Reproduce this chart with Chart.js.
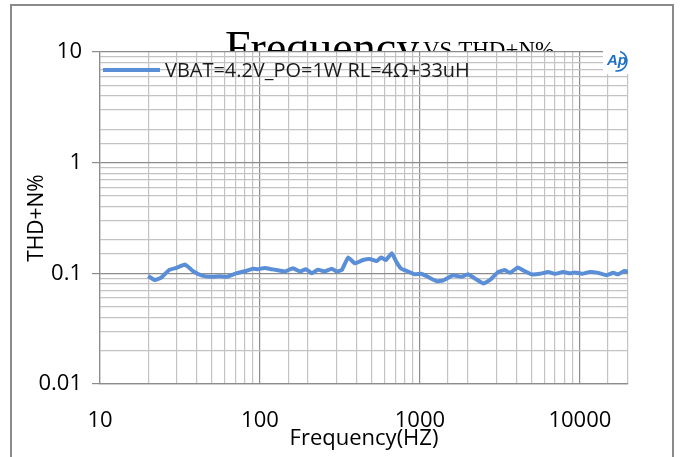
<!DOCTYPE html>
<html>
<head>
<meta charset="utf-8">
<script src="https://cdn.jsdelivr.net/npm/chart.js@4.4.1/dist/chart.umd.min.js"></script>
<style>
html,body{margin:0;padding:0;background:#fff;}
#wrap{width:683px;height:457px;position:relative;}
</style>
</head>
<body>
<div id="wrap"><canvas id="c" width="683" height="457"></canvas></div>
<script>
const seriesLabel = 'VBAT=4.2V_PO=1W RL=4\u03A9+33uH';
const titleMain = 'Frequency';
const titleSub = 'VS THD+N%';
const xTitle = 'Frequency(HZ)';
const yTitle = 'THD+N%';
const freqs = [20,22,24,27,30,34,38,43,49,56,62,71,82,90,97,107,118,127,143,161,178,194,211,230,254,281,302,325,356,392,441,486,536,573,614,667,717,765,831,929,1020,1120,1270,1390,1610,1820,2000,2200,2500,2740,3090,3400,3660,4100,4500,4990,5620,6330,6980,7870,8660,9310,10270,11550,13000,14700,16200,17300,19000,20000];
const thd = [0.0945,0.087,0.091,0.107,0.112,0.12,0.105,0.096,0.093,0.094,0.093,0.1,0.105,0.11,0.109,0.112,0.109,0.107,0.104,0.111,0.104,0.109,0.1,0.108,0.104,0.11,0.104,0.107,0.139,0.123,0.132,0.135,0.129,0.139,0.132,0.152,0.125,0.11,0.105,0.098,0.099,0.093,0.085,0.086,0.096,0.093,0.098,0.090,0.081,0.087,0.103,0.107,0.101,0.113,0.105,0.098,0.099,0.103,0.099,0.103,0.1,0.102,0.099,0.103,0.101,0.096,0.101,0.098,0.105,0.104];
const xTickLabels = [10,100,1000,10000];
const yTickLabels = [0.01,0.1,1,10];

const LINE_COLOR = '#5a8fd7';
const MINOR = '#c3c3c3';
const MAJOR = '#8c8c8c';

function isIn(list, v){ return list.some(t => Math.abs(Math.log10(t) - Math.log10(v)) < 1e-6); }

const decor = {
  id: 'decor',
  beforeDraw(chart){
    const ctx = chart.ctx, a = chart.chartArea;
    ctx.save();
    ctx.fillStyle = '#fff';
    ctx.fillRect(0,0,chart.width,chart.height);
    ctx.strokeStyle = '#8a8a8a';
    ctx.lineWidth = 2;
    ctx.strokeRect(11,5,662,500);
    ctx.fillStyle = '#000';
    ctx.textBaseline = 'alphabetic';
    ctx.font = '46px "Liberation Serif", "DejaVu Serif", serif';
    ctx.fillText(titleMain, 225, 63);
    ctx.font = '23px "Liberation Serif", "DejaVu Serif", serif';
    ctx.fillText(titleSub, 423, 57);
    ctx.fillStyle = '#fff';
    ctx.fillRect(a.left, a.top, a.right - a.left, a.bottom - a.top);
    ctx.restore();
  },
  afterDatasetsDraw(chart){
    const ctx = chart.ctx, a = chart.chartArea;
    const ds = chart.data.datasets[0];
    ctx.save();
    // legend
    ctx.strokeStyle = ds.borderColor;
    ctx.lineWidth = 4;
    ctx.beginPath();
    ctx.moveTo(a.left + 3, 70);
    ctx.lineTo(a.left + 60, 70);
    ctx.stroke();
    ctx.fillStyle = '#1a1a1a';
    ctx.textBaseline = 'middle';
    ctx.font = '16px "Open Sans", sans-serif';
    const w = ctx.measureText(ds.label).width;
    const fs = 16 * 305 / w;
    ctx.font = fs.toFixed(2) + 'px "Open Sans", sans-serif';
    ctx.fillText(ds.label, a.left + 65, 71);
    // logo
    ctx.fillStyle = '#fff';
    ctx.fillRect(603, 48, 29, 26);
    ctx.fillStyle = '#1f6fc4';
    ctx.font = 'italic bold 15px "Liberation Sans", sans-serif';
    ctx.textBaseline = 'middle';
    ctx.fillText('Ap', 607, 61);
    ctx.strokeStyle = '#1f6fc4';
    ctx.lineWidth = 1.6;
    ctx.beginPath();
    ctx.arc(617, 61, 10, -0.4*Math.PI, 0.55*Math.PI);
    ctx.stroke();
    ctx.restore();
  }
};

new Chart(document.getElementById('c'), {
  type: 'line',
  data: {
    datasets: [{
      label: seriesLabel,
      data: freqs.map((f,i) => ({x:f, y:thd[i]})),
      borderColor: LINE_COLOR,
      backgroundColor: LINE_COLOR,
      borderWidth: 4,
      pointRadius: 0,
      tension: 0.1,
      borderJoinStyle: 'round',
      fill: false
    }]
  },
  plugins: [decor],
  options: {
    responsive: false,
    animation: false,
    events: [],
    layout: { padding: { top: 52, right: 55, bottom: 0, left: 0 } },
    plugins: { legend: { display: false }, title: { display: false }, tooltip: { enabled: false } },
    scales: {
      x: {
        type: 'logarithmic',
        min: 10, max: 20000,
        afterFit(s){ s.height = 73; },
        grid: {
          color: c => (c.tick && isIn(xTickLabels, c.tick.value)) ? MAJOR : MINOR,
          lineWidth: 1.2,
          drawTicks: false
        },
        border: { display: true, color: MAJOR, width: 1.2 },
        ticks: {
          autoSkip: false, maxRotation: 0, minRotation: 0,
          padding: 24,
          color: '#000',
          font: { family: '"Open Sans", sans-serif', size: 22 },
          callback: v => isIn(xTickLabels, v) ? String(xTickLabels.find(t => Math.abs(Math.log10(t)-Math.log10(v))<1e-6)) : ''
        },
        title: {
          display: true, text: xTitle, color: '#000',
          font: { family: '"Open Sans", sans-serif', size: 22 },
          padding: { top: 0, bottom: 5 }
        }
      },
      y: {
        type: 'logarithmic',
        min: 0.01, max: 10,
        afterFit(s){ s.width = 100; },
        grid: {
          color: c => (c.tick && isIn(yTickLabels, c.tick.value)) ? MAJOR : MINOR,
          lineWidth: 1.2,
          tickLength: 8,
          tickColor: c => (c.tick && isIn(yTickLabels, c.tick.value)) ? MAJOR : 'rgba(0,0,0,0)'
        },
        border: { display: true, color: MAJOR, width: 1.2 },
        ticks: {
          autoSkip: false,
          padding: 10,
          color: '#000',
          font: { family: '"Open Sans", sans-serif', size: 22 },
          callback: v => isIn(yTickLabels, v) ? String(yTickLabels.find(t => Math.abs(Math.log10(t)-Math.log10(v))<1e-6)) : ''
        },
        title: {
          display: true, text: yTitle, color: '#000',
          font: { family: '"Open Sans", sans-serif', size: 21 },
          padding: { top: 24, bottom: 0 }
        }
      }
    }
  }
});
</script>
</body>
</html>
